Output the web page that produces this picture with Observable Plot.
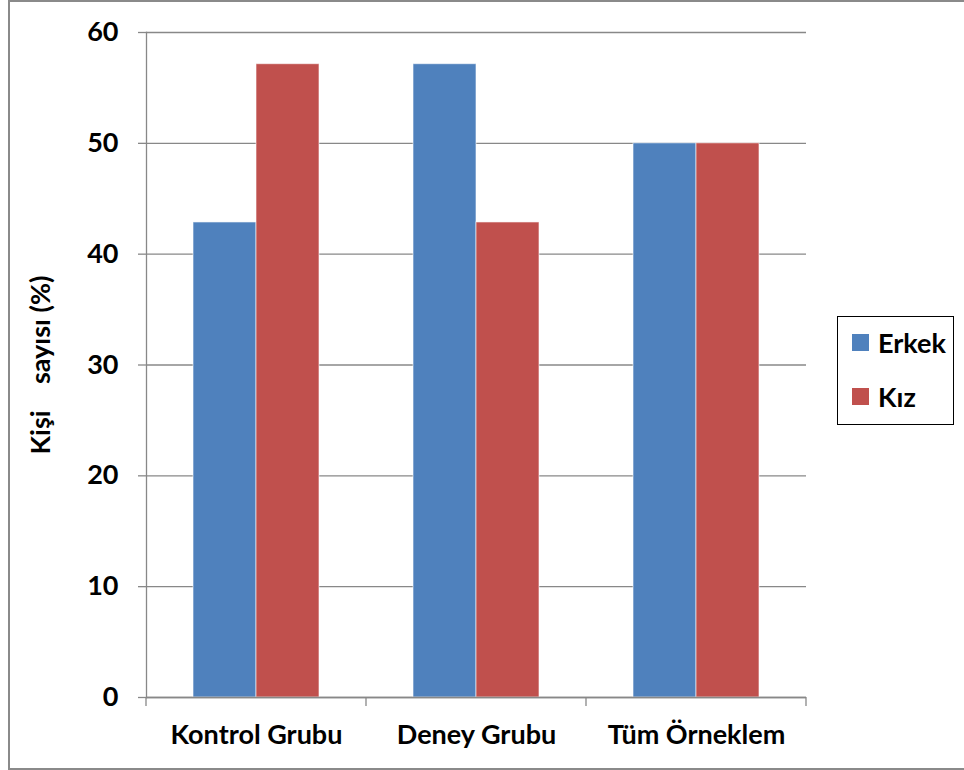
<!DOCTYPE html>
<html>
<head>
<meta charset="utf-8">
<script src="https://cdn.jsdelivr.net/npm/d3@7"></script>
<script src="https://cdn.jsdelivr.net/npm/@observablehq/plot@0.6"></script>
<style>
  html, body { margin: 0; padding: 0; background: #fff; overflow: hidden; }
  #wrap { position: relative; width: 964px; height: 770px; font-family: Lato, "Open Sans", sans-serif; }
  #border { position: absolute; left: 8px; top: 0px; right: -20px; height: 766px; border: 2px solid #8a8a8a; pointer-events: none; }
  #legend { position: absolute; left: 837px; top: 316px; width: 115px; height: 107px; border: 1.5px solid #000; background: #fff; }
  .item { position: absolute; left: 14px; display: flex; align-items: center; font-weight: bold; font-size: 27px; color: #000; }
  .sw { width: 17px; height: 17px; margin-right: 9px; }
</style>
</head>
<body>
<div id="wrap">
  <div id="chart"></div>
  <div id="border"></div>
  <div id="legend"></div>
</div>
<script>
const groups = ["Kontrol Grubu", "Deney Grubu", "Tüm Örneklem"];
const series = ["Erkek", "Kız"];
const erkek = [42.86, 57.14, 50];
const kiz = [57.14, 42.86, 50];
const yTicks = [0, 10, 20, 30, 40, 50, 60];
const colors = ["#4F81BD", "#C0504D"];
const yLabel = "Kişi\u00a0\u00a0\u00a0\u00a0sayısı (%)";

const data = groups.flatMap((g, i) => [
  {group: g, sex: series[0], value: erkek[i]},
  {group: g, sex: series[1], value: kiz[i]}
]);

const gray = "#888";
const chart = Plot.plot({
  width: 964,
  height: 770,
  marginLeft: 145,
  marginRight: 157,
  marginTop: 32,
  marginBottom: 73,
  style: {fontFamily: "Lato, 'Open Sans', sans-serif", fontWeight: "bold", fontSize: "27px", color: "#000", background: "transparent"},
  fx: {domain: groups, padding: 0, label: null},
  x: {domain: series, paddingInner: 0, paddingOuter: 0.746, axis: null},
  y: {domain: [0, 60], label: null},
  color: {domain: series, range: colors},
  marks: [
    Plot.gridY(yTicks, {stroke: gray, strokeOpacity: 1, strokeWidth: 1.3}),
    Plot.barY(data, {fx: "group", x: "sex", y: "value", fill: "sex", stroke: "#fff", strokeOpacity: 0.6, strokeWidth: 1}),
    Plot.ruleY([0], {stroke: gray, strokeWidth: 1.3}),
    Plot.frame({anchor: "left", facetAnchor: "left", stroke: gray, strokeWidth: 1.3}),
    Plot.axisY(yTicks, {tickSize: 8, tickPadding: 20, stroke: gray, strokeWidth: 1.3, strokeOpacity: 1, label: yLabel, labelAnchor: "center", labelOffset: 116, labelArrow: "none"}),
    Plot.axisFx({anchor: "bottom", tickSize: 0, tickPadding: 27, label: null})
  ]
});
document.getElementById("chart").appendChild(chart);

// category boundary ticks on the x axis, from the library's fx and y scales
const fx = chart.scale("fx");
const ys = chart.scale("y");
const y0 = ys.apply(0);
const bounds = groups.map(g => fx.apply(g)).concat([fx.apply(groups[groups.length - 1]) + fx.bandwidth]);
d3.select(chart).append("g")
  .attr("stroke", gray).attr("stroke-width", 1.3)
  .selectAll("line").data(bounds).join("line")
  .attr("x1", d => d).attr("x2", d => d)
  .attr("y1", y0).attr("y2", y0 + 9);

// legend
const legend = document.getElementById("legend");
series.forEach((s, i) => {
  const it = document.createElement("div");
  it.className = "item";
  it.style.top = (i === 0 ? 9 : 63) + "px";
  it.innerHTML = `<span class="sw" style="background:${colors[i]}"></span><span>${s}</span>`;
  legend.appendChild(it);
});
</script>
</body>
</html>
